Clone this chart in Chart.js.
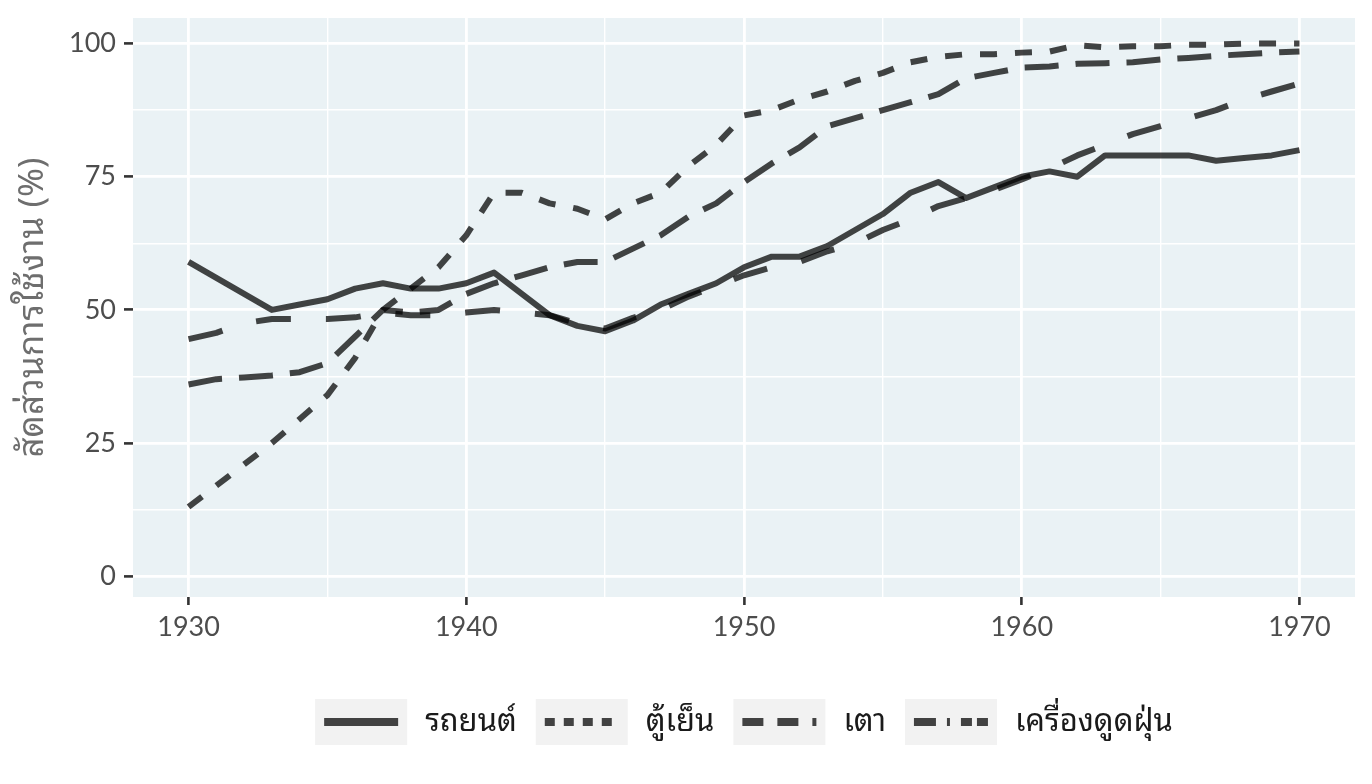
<!DOCTYPE html>
<html>
<head>
<meta charset="utf-8">
<script src="https://cdn.jsdelivr.net/npm/chart.js@4.4.1/dist/chart.umd.min.js"></script>
<style>
  html, body { margin: 0; padding: 0; background: #ffffff; }
  #wrap { width: 1372px; height: 784px; }
</style>
</head>
<body>
<div id="wrap"><canvas id="adoption"></canvas></div>
<script>
// values
var years = [1930, 1931, 1932, 1933, 1934, 1935, 1936, 1937, 1938, 1939,
             1940, 1941, 1942, 1943, 1944, 1945, 1946, 1947, 1948, 1949,
             1950, 1951, 1952, 1953, 1954, 1955, 1956, 1957, 1958, 1959,
             1960, 1961, 1962, 1963, 1964, 1965, 1966, 1967, 1968, 1969, 1970];

var car    = [59, null, null, 50, 51, 52, 54, 55, 54, 54,
              55, 57, 53, 49, 47, 46, 48, 51, 53, 55,
              58, 60, 60, 62, 65, 68, 72, 74, 71, 73,
              75, 76, 75, 79, 79, 79, 79, 78, 78.5, 79, 80];
var fridge = [13, null, null, 25, null, 34, 41, 50, 54, 58,
              64, 72, 72, 70, 69, 67, 70, 72, 77, 81,
              86.5, 87.5, 89.5, 91, 93, 94.5, 96.5, 97.5, 98, 98,
              98.3, 98.5, 99.7, 99.3, 99.5, 99.5, 99.8, 99.8, 100, 100, 100];
var stove  = [44.5, 45.7, 47.5, 48.3, 48.3, 48.3, 48.6, 49.5, 49, 49,
              49.5, 50, 49.5, 49, 47.5, 46.5, 48.5, 50, 52.5, 54.5,
              56.5, 58, 59, 61, 62.5, 65, 67, 69.5, 71, 72.5,
              74.5, 76.5, 79, 81, 83, 84.5, 86, 87.5, 89.5, 91, 92.5];
var vacuum = [36, 37, 37.3, 37.7, 38.3, 40, 45, 50, 49.5, 50,
              53, 55, 56.5, 58, 59, 59, 61.5, 64, 67.5, 70,
              74, 77.5, 80.5, 84.5, 86, 87.5, 89, 90.5, 93.5, 94.5,
              95.5, 95.7, 96.2, 96.3, 96.5, 97, 97.3, 97.7, 98, 98.3, 98.5];

var seriesNames = ["รถยนต์", "ตู้เย็น", "เตา", "เครื่องดูดฝุ่น"];
var seriesValues = [car, fridge, stove, vacuum];

var xTicks = [1930, 1940, 1950, 1960, 1970];
var xMinor = [1935, 1945, 1955, 1965];
var yTicks = [0, 25, 50, 75, 100];
var yMinor = [12.5, 37.5, 62.5, 87.5];

var thaiFont = '"Noto Sans Thai Looped", "Noto Serif Thai", Loma, Garuda, Kinnari, Norasi, serif';
var lineColor = 'rgba(0,0,0,0.73)';
var plotDash = [[], [17, 18], [35, 35], [34, 17]];
var keyDash = [[], [10, 9], [21, 14], [22, 11, 3, 11, 11, 5]];

function toPoints(vals) {
  return years.map(function (y, i) { return { x: y, y: vals[i] }; });
}

var datasets = seriesNames.map(function (name, i) {
  return {
    label: name,
    data: toPoints(seriesValues[i]),
    borderColor: lineColor,
    borderWidth: 6,
    borderDash: plotDash[i],
    borderCapStyle: 'butt',
    borderJoinStyle: 'round',
    pointRadius: 0,
    tension: 0,
    spanGaps: true,
    fill: false
  };
});

var panelBg = {
  id: 'panelBg',
  beforeDraw: function (chart) {
    var a = chart.chartArea, ctx = chart.ctx;
    ctx.save();
    ctx.fillStyle = '#EAF2F5';
    ctx.fillRect(a.left, a.top, a.right - a.left, a.bottom - a.top);
    ctx.restore();
  }
};

// ggplot-like legend strip under the plot
var keyLegend = {
  id: 'keyLegend',
  afterDraw: function (chart) {
    var ctx = chart.ctx, a = chart.chartArea;
    var keyW = 92, keyH = 46, textGap = 18, itemGap = 19, yc = 722;
    ctx.save();
    ctx.font = '31px ' + thaiFont;
    var widths = seriesNames.map(function (n) { return ctx.measureText(n).width; });
    var total = 0;
    widths.forEach(function (w) { total += keyW + textGap + w; });
    total += itemGap * (seriesNames.length - 1);
    var x = (a.left + a.right) / 2 - total / 2;
    seriesNames.forEach(function (n, i) {
      ctx.fillStyle = '#F2F2F2';
      ctx.fillRect(x, yc - keyH / 2, keyW, keyH);
      ctx.beginPath();
      ctx.setLineDash(keyDash[i]);
      ctx.lineCap = 'butt';
      ctx.lineWidth = 8;
      ctx.strokeStyle = lineColor;
      ctx.moveTo(x + 9, yc);
      ctx.lineTo(x + keyW - 9, yc);
      ctx.stroke();
      ctx.setLineDash([]);
      ctx.fillStyle = '#1a1a1a';
      ctx.textBaseline = 'middle';
      ctx.textAlign = 'left';
      ctx.fillText(n, x + keyW + textGap, yc);
      x += keyW + textGap + widths[i] + itemGap;
    });
    ctx.restore();
  }
};

function isMajor(list, v) { return list.indexOf(v) !== -1; }

var ctx = document.getElementById('adoption').getContext('2d');
var adoptionChart = new Chart(ctx, {
  type: 'line',
  data: { datasets: datasets },
  plugins: [panelBg, keyLegend],
  options: {
    responsive: true,
    maintainAspectRatio: false,
    animation: false,
    layout: { padding: { left: 12, right: 17, top: 18, bottom: 127 } },
    plugins: { legend: { display: false }, tooltip: { enabled: false } },
    scales: {
      x: {
        type: 'linear',
        min: 1928,
        max: 1972,
        afterBuildTicks: function (scale) {
          scale.ticks = xTicks.concat(xMinor).sort().map(function (v) { return { value: v }; });
        },
        afterFit: function (scale) {
          scale.height = 60;
          scale.paddingLeft = 0;
          scale.paddingRight = 0;
        },
        border: { display: false },
        grid: {
          color: '#ffffff',
          lineWidth: function (c) { return isMajor(xTicks, c.tick.value) ? 2.8 : 1.4; },
          tickColor: function (c) { return isMajor(xTicks, c.tick.value) ? '#333333' : 'rgba(0,0,0,0)'; },
          tickWidth: 2.6,
          tickLength: 8
        },
        ticks: {
          autoSkip: false,
          maxRotation: 0,
          padding: 6,
          color: '#4d4d4d',
          font: { family: 'Lato', size: 27 },
          callback: function (v) { return isMajor(xTicks, v) ? String(v) : ''; }
        }
      },
      y: {
        min: -3.9,
        max: 104.8,
        afterBuildTicks: function (scale) {
          scale.ticks = yTicks.concat(yMinor).sort(function (p, q) { return p - q; })
            .map(function (v) { return { value: v }; });
        },
        afterFit: function (scale) {
          scale.width = 121;
          scale.paddingTop = 0;
          scale.paddingBottom = 0;
        },
        border: { display: false },
        grid: {
          color: '#ffffff',
          lineWidth: function (c) { return isMajor(yTicks, c.tick.value) ? 2.8 : 1.4; },
          tickColor: function (c) { return isMajor(yTicks, c.tick.value) ? '#333333' : 'rgba(0,0,0,0)'; },
          tickWidth: 2.6,
          tickLength: 9
        },
        ticks: {
          autoSkip: false,
          padding: 8,
          color: '#4d4d4d',
          font: { family: 'Lato', size: 27 },
          callback: function (v) { return isMajor(yTicks, v) ? String(v) : ''; }
        },
        title: {
          display: true,
          text: 'สัดส่วนการใช้งาน (%)',
          color: '#6e6e6e',
          padding: { top: 0, bottom: 2 },
          font: { family: thaiFont, size: 35 }
        }
      }
    }
  }
});
</script>
</body>
</html>
